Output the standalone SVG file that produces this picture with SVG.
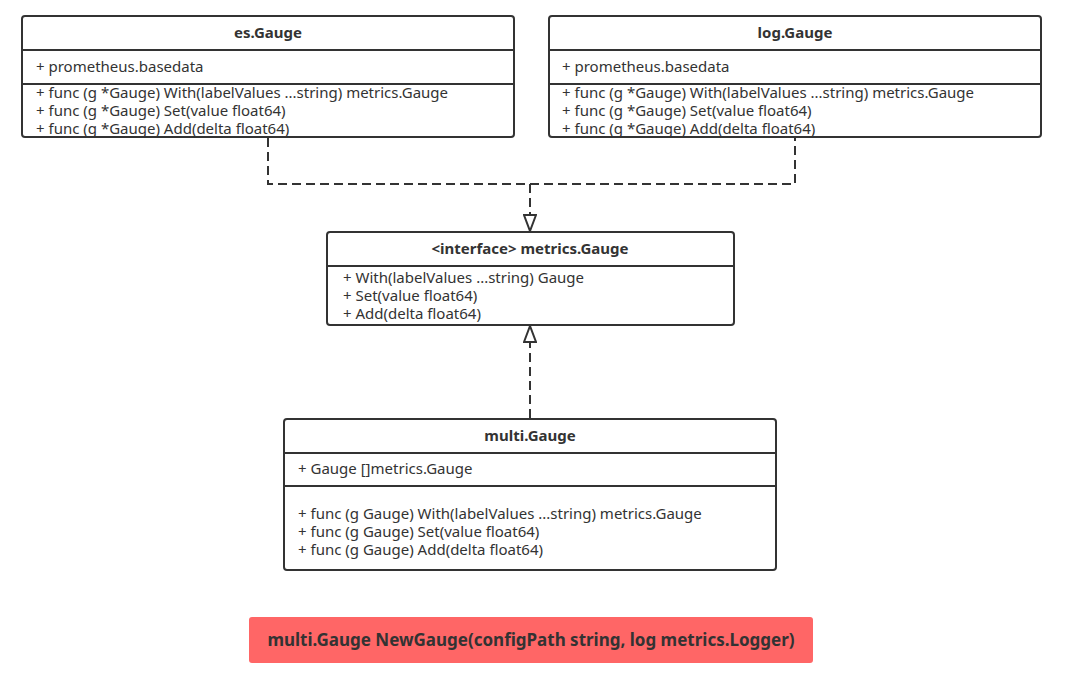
<svg xmlns="http://www.w3.org/2000/svg" width="1072" height="700" viewBox="0 0 1072 700">
<defs>
<style>
.box{fill:#fff;stroke:#333;stroke-width:2}
.div{stroke:#333;stroke-width:2;fill:none}
.t{font-family:"Noto Sans","Open Sans",sans-serif;font-size:15px;fill:#333}
.h{font-family:"Noto Sans","Open Sans",sans-serif;font-size:15px;font-weight:bold;fill:#333;text-anchor:middle}
.dash{stroke:#333;stroke-width:2;fill:none;stroke-dasharray:9 5}
</style>
<marker id="tri" markerWidth="18" markerHeight="14" refX="17" refY="7" orient="auto" markerUnits="userSpaceOnUse" viewBox="0 0 18 14">
<path d="M1,1 L17,7 L1,13 Z" fill="#fff" stroke="#333" stroke-width="2"/>
</marker>
</defs>
<rect width="1072" height="700" fill="#fff"/>
<g id="es-gauge">
<rect class="box" x="22" y="16" width="492" height="121" rx="3"/>
<line class="div" x1="22" y1="50" x2="514" y2="50"/>
<line class="div" x1="22" y1="84" x2="514" y2="84"/>
<text class="h" x="268" y="38">es.Gauge</text>
<text class="t" x="36" y="72">+ prometheus.basedata</text>
<text class="t" x="36" y="98">+ func (g *Gauge) With(labelValues ...string) metrics.Gauge</text>
<text class="t" x="36" y="116">+ func (g *Gauge) Set(value float64)</text>
<text class="t" x="36" y="134">+ func (g *Gauge) Add(delta float64)</text>
</g>
<g id="log-gauge">
<rect class="box" x="549" y="16" width="492" height="121" rx="3"/>
<line class="div" x1="549" y1="50" x2="1041" y2="50"/>
<line class="div" x1="549" y1="84" x2="1041" y2="84"/>
<text class="h" x="795" y="38">log.Gauge</text>
<text class="t" x="562" y="72">+ prometheus.basedata</text>
<text class="t" x="562" y="98">+ func (g *Gauge) With(labelValues ...string) metrics.Gauge</text>
<text class="t" x="562" y="116">+ func (g *Gauge) Set(value float64)</text>
<text class="t" x="562" y="134">+ func (g *Gauge) Add(delta float64)</text>
</g>
<g id="metrics-gauge">
<rect class="box" x="327" y="232" width="407" height="93" rx="3"/>
<line class="div" x1="327" y1="266" x2="734" y2="266"/>
<text class="h" x="530" y="254">&lt;interface&gt; metrics.Gauge</text>
<text class="t" x="343" y="283">+ With(labelValues ...string) Gauge</text>
<text class="t" x="343" y="301">+ Set(value float64)</text>
<text class="t" x="343" y="319">+ Add(delta float64)</text>
</g>
<g id="multi-gauge">
<rect class="box" x="284" y="419" width="492" height="151" rx="3"/>
<line class="div" x1="284" y1="453" x2="776" y2="453"/>
<line class="div" x1="284" y1="486" x2="776" y2="486"/>
<text class="h" x="530" y="441">multi.Gauge</text>
<text class="t" x="298" y="474">+ Gauge []metrics.Gauge</text>
<text class="t" x="298" y="519">+ func (g Gauge) With(labelValues ...string) metrics.Gauge</text>
<text class="t" x="298" y="537">+ func (g Gauge) Set(value float64)</text>
<text class="t" x="298" y="555">+ func (g Gauge) Add(delta float64)</text>
</g>
<g id="new-gauge">
<rect x="249" y="617" width="564" height="46" rx="3" fill="#ff6666"/>
<text class="h" x="531" y="646" style="font-size:17px">multi.Gauge NewGauge(configPath string, log metrics.Logger)</text>
</g>
<g id="connectors">
<path class="dash" d="M268,138 V184 H795 V138"/>
<path class="dash" d="M530,184 V231" marker-end="url(#tri)"/>
<path class="dash" d="M530,418 V326" marker-end="url(#tri)"/>
</g>
</svg>
